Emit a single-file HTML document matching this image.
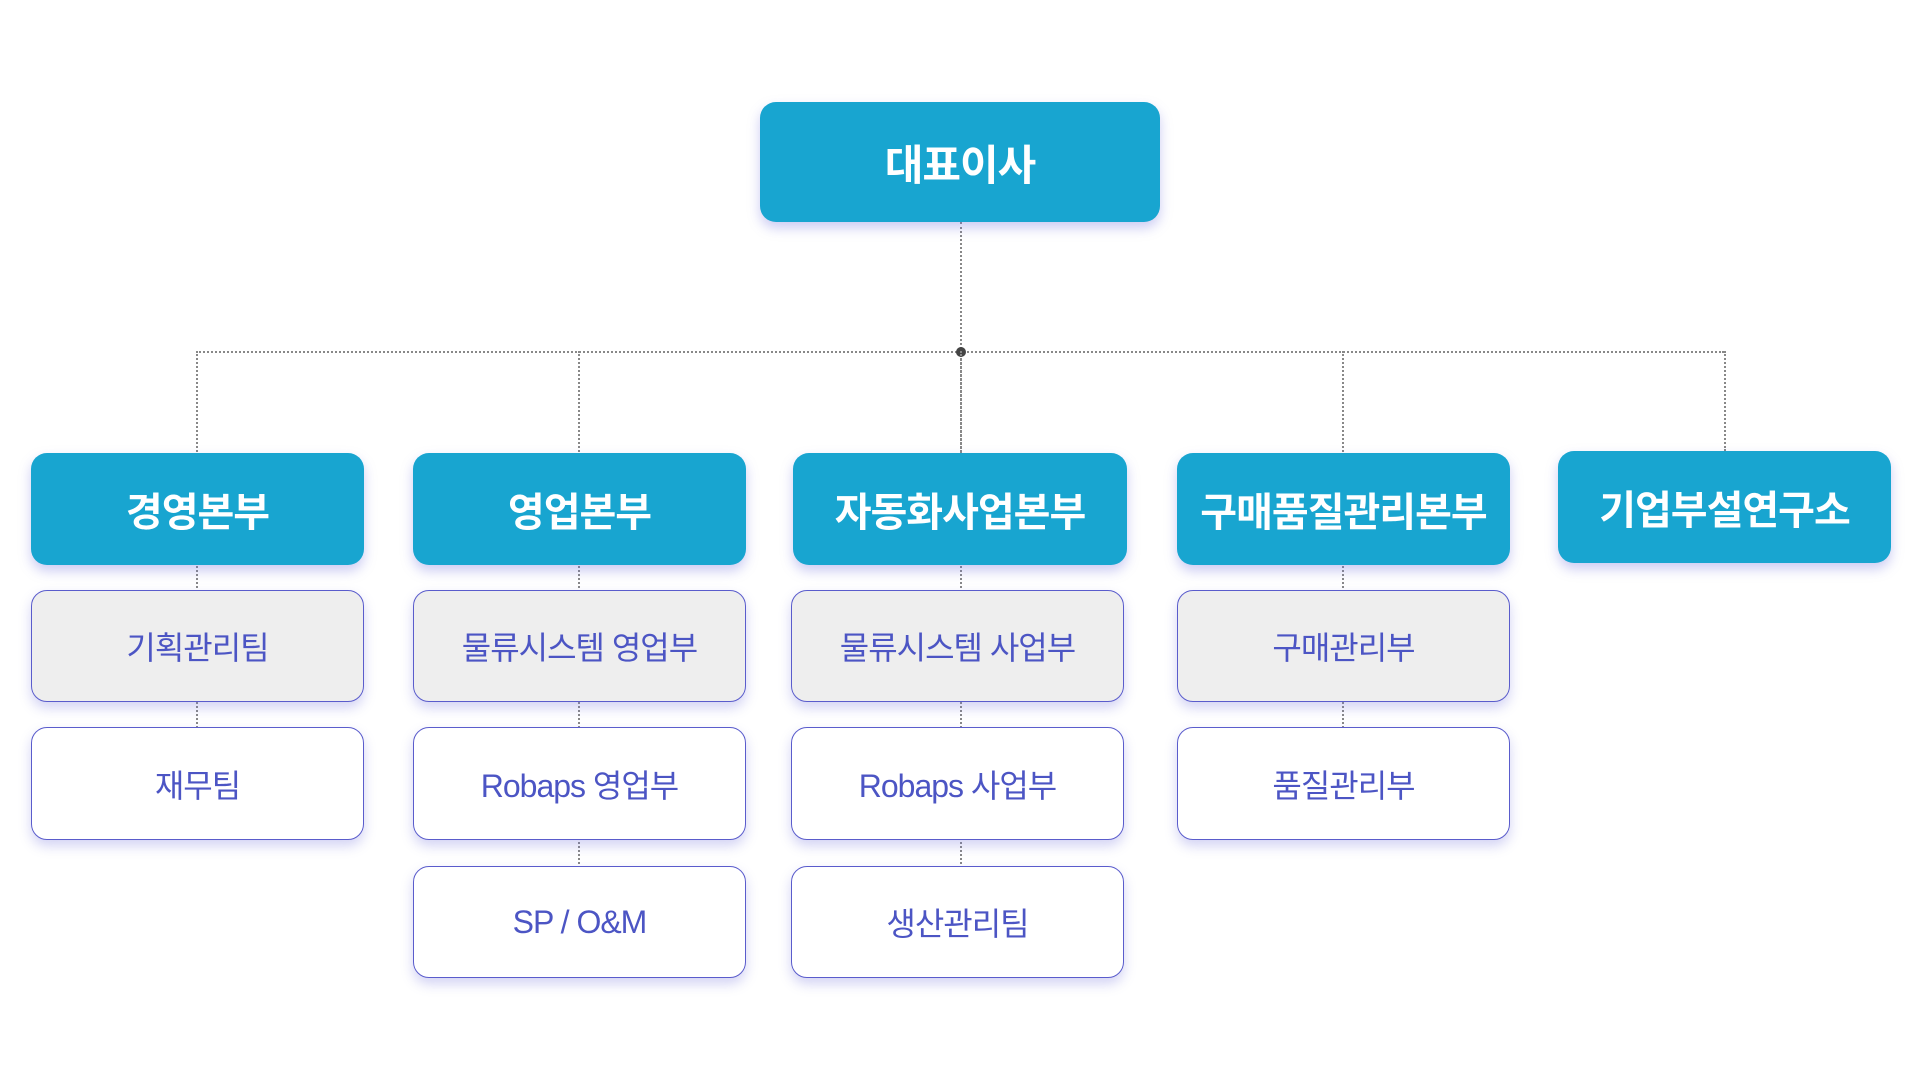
<!DOCTYPE html>
<html><head><meta charset="utf-8"><style>
body{margin:0;width:1920px;height:1080px;background:#fff;position:relative;overflow:hidden;font-family:"Liberation Sans","Noto Sans CJK KR",sans-serif;}
.b{position:absolute;box-sizing:border-box;display:flex;align-items:center;justify-content:center;border-radius:16px;letter-spacing:-1px;}
.h{background:#18a5d0;color:#fff;font-weight:bold;font-size:40px;box-shadow:0 6px 12px rgba(110,110,220,0.35);}
.s{border:1.5px solid #5a5ccc;color:#4c55c4;font-size:32px;background:#fff;box-shadow:0 6px 12px rgba(110,110,220,0.3);}
.g{background:#eeeeee;}
.v{position:absolute;border-left:2px dotted #888;width:0;}
</style></head><body>
<div class="v" style="left:960px;top:222px;height:231px"></div>
<div style="position:absolute;left:196px;top:351px;width:1528px;border-top:2px dotted #888"></div>
<div style="position:absolute;left:956px;top:347px;width:10px;height:10px;border-radius:50%;background:#444"></div>
<div class="v" style="left:196px;top:351px;height:380px"></div>
<div class="v" style="left:578px;top:351px;height:520px"></div>
<div class="v" style="left:960px;top:351px;height:520px"></div>
<div class="v" style="left:1342px;top:351px;height:380px"></div>
<div class="v" style="left:1724px;top:351px;height:100px"></div>

<div class="b h" style="left:760px;top:102px;width:400px;height:120px;font-size:42px">대표이사</div>

<div class="b h" style="left:31px;top:453px;width:333px;height:112px">경영본부</div>
<div class="b h" style="left:413px;top:453px;width:333px;height:112px">영업본부</div>
<div class="b h" style="left:793px;top:453px;width:334px;height:112px">자동화사업본부</div>
<div class="b h" style="left:1177px;top:453px;width:333px;height:112px">구매품질관리본부</div>
<div class="b h" style="left:1558px;top:451px;width:333px;height:112px">기업부설연구소</div>

<div class="b s g" style="left:31px;top:590px;width:333px;height:112px">기획관리팀</div>
<div class="b s" style="left:31px;top:727px;width:333px;height:113px">재무팀</div>

<div class="b s g" style="left:413px;top:590px;width:333px;height:112px">물류시스템 영업부</div>
<div class="b s" style="left:413px;top:727px;width:333px;height:113px">Robaps 영업부</div>
<div class="b s" style="left:413px;top:866px;width:333px;height:112px">SP / O&amp;M</div>

<div class="b s g" style="left:791px;top:590px;width:333px;height:112px">물류시스템 사업부</div>
<div class="b s" style="left:791px;top:727px;width:333px;height:113px">Robaps 사업부</div>
<div class="b s" style="left:791px;top:866px;width:333px;height:112px">생산관리팀</div>

<div class="b s g" style="left:1177px;top:590px;width:333px;height:112px">구매관리부</div>
<div class="b s" style="left:1177px;top:727px;width:333px;height:113px">품질관리부</div>
</body></html>
